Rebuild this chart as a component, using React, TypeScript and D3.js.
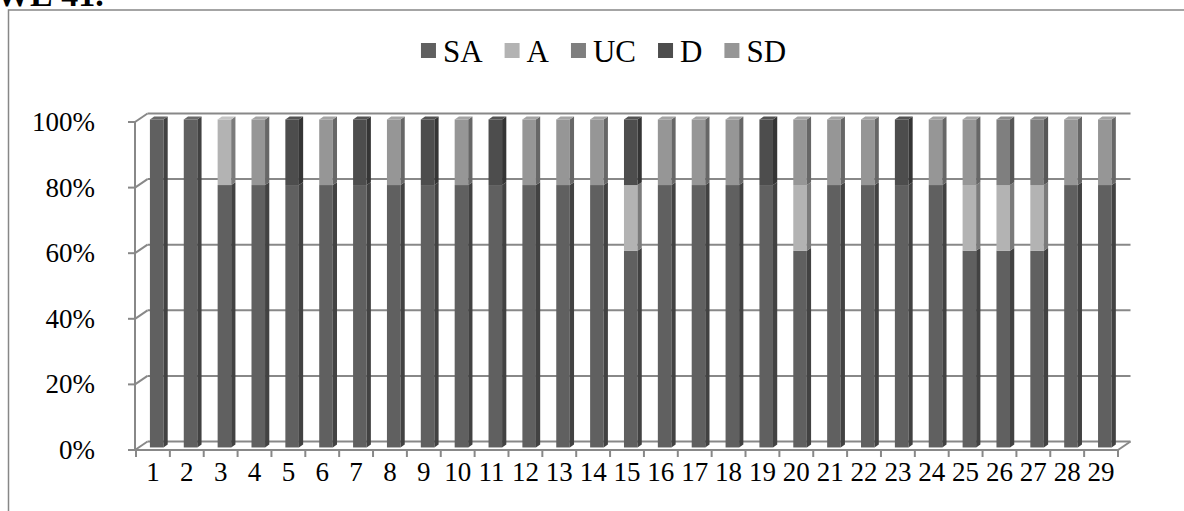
import React from "react";
import * as d3 from "d3";

// Survey items 1–29, Likert responses as percentages stacked SA → SD
const categories = ["1","2","3","4","5","6","7","8","9","10","11","12","13","14","15","16","17","18","19","20","21","22","23","24","25","26","27","28","29"];
const seriesNames = ["SA", "A", "UC", "D", "SD"];
const SA = [100,100,80,80,80,80,80,80,80,80,80,80,80,80,60,80,80,80,80,60,80,80,80,80,60,60,60,80,80];
const A  = [0,0,20,0,0,0,0,0,0,0,0,0,0,0,20,0,0,0,0,20,0,0,0,0,20,20,20,0,0];
const UC = [0,0,0,0,0,0,0,0,0,0,0,0,0,0,0,0,0,0,0,0,0,0,0,0,0,20,20,0,0];
const D  = [0,0,0,0,20,0,20,0,20,0,20,0,0,0,20,0,0,0,20,0,0,0,20,0,0,0,0,0,0];
const SD = [0,0,0,20,0,20,0,20,0,20,0,20,20,20,0,20,20,20,0,20,20,20,0,20,20,0,0,20,20];
const yTicks = [0, 20, 40, 60, 80, 100];
const seriesColors = ["#606060", "#b3b3b3", "#7f7f7f", "#4d4d4d", "#969696"];

const W = 1184, H = 511;
const plot = { left: 135, right: 1118, top: 122, bottom: 450 };
const depth = { dx: 12.5, dy: -8.5 };
const barFront = 0.3, barBack = 0.64;
const gridColor = "#888888";
const serif = "'Liberation Serif', 'Times New Roman', serif";

export default function App() {
  const x = d3.scaleBand<string>().domain(categories).range([plot.left + 1, plot.right]).paddingInner(0).paddingOuter(0);
  const y = d3.scaleLinear().domain([0, 100]).range([plot.bottom, plot.top]);
  const series = [SA, A, UC, D, SD];
  const rows = categories.map((c, i) => {
    const r: any = { cat: c };
    seriesNames.forEach((s, k) => (r[s] = series[k][i]));
    return r;
  });
  const stacked = d3.stack().keys(seriesNames)(rows);

  const bw = x.bandwidth() / 2.5;
  const fx = depth.dx * barFront, fy = depth.dy * barFront;
  const sx = depth.dx * (barBack - barFront), sy = depth.dy * (barBack - barFront);

  const bars: JSX.Element[] = [];
  categories.forEach((c, i) => {
    const x0 = (x(c) as number) + (x.bandwidth() - bw) / 2 + fx;
    const x1 = x0 + bw;
    const segs = stacked.map((s, k) => ({ k, lo: s[i][0], hi: s[i][1] })).filter((s) => s.hi > s.lo);
    segs.forEach((s, j) => {
      const col = d3.color(seriesColors[s.k])!;
      const yT = y(s.hi) + fy, yB = y(s.lo) + fy;
      bars.push(
        <g key={`${c}-${s.k}`}>
          <rect x={x0} y={yT} width={bw} height={yB - yT} fill={seriesColors[s.k]} />
          <polygon
            points={`${x1},${yT} ${x1 + sx},${yT + sy} ${x1 + sx},${yB + sy} ${x1},${yB}`}
            fill={col.darker(1.05).formatHex()}
          />
          {j === segs.length - 1 && (
            <polygon
              points={`${x0},${yT} ${x0 + sx},${yT + sy} ${x1 + sx},${yT + sy} ${x1},${yT}`}
              fill={col.brighter(0.25).formatHex()}
            />
          )}
        </g>
      );
    });
  });

  const backL = plot.left + depth.dx, backR = plot.right + depth.dx;

  return (
    <svg width={W} height={H} style={{ position: "absolute", left: 0, top: 0, background: "#fff" }}>
      {/* figure caption cut by the frame top */}
      <text x={-4} y={6} fontFamily={serif} fontWeight="bold" fontSize={34} fill="#000">WE 41.</text>
      {/* chart frame */}
      <rect x={8.5} y={10} width={1200} height={520} fill="none" stroke="#878787" strokeWidth={1.5} />

      {/* back wall gridlines and side wall diagonals */}
      <g stroke={gridColor} strokeWidth={2} fill="none">
        {yTicks.map((t) => (
          <g key={t}>
            <line x1={backL} x2={backR} y1={y(t) + depth.dy} y2={y(t) + depth.dy} />
            <line x1={plot.left} y1={y(t)} x2={backL} y2={y(t) + depth.dy} />
          </g>
        ))}
        {/* floor */}
        <line x1={plot.left} x2={plot.right} y1={y(0)} y2={y(0)} />
        <line x1={plot.right} y1={y(0)} x2={backR} y2={y(0) + depth.dy} />
        {/* value axis */}
        <line x1={plot.left} x2={plot.left} y1={plot.top} y2={plot.bottom} />
        {yTicks.map((t) => (
          <line key={`yt${t}`} x1={plot.left - 7} x2={plot.left} y1={y(t)} y2={y(t)} />
        ))}
        {categories.map((c) => (
          <line key={`xt${c}`} x1={x(c) as number} x2={x(c) as number} y1={y(0)} y2={y(0) + 7} />
        ))}
        <line x1={plot.right} x2={plot.right} y1={y(0)} y2={y(0) + 7} />
      </g>

      {bars}

      {/* axis labels */}
      <g fontFamily={serif} fontSize={27} fill="#000">
        {yTicks.map((t) => (
          <text key={t} x={plot.left - 40} y={y(t) + 9} textAnchor="end">{`${t}%`}</text>
        ))}
        {categories.map((c) => (
          <text key={c} x={(x(c) as number) + x.bandwidth() / 2} y={481} textAnchor="middle">{c}</text>
        ))}
      </g>

      <Legend />
    </svg>
  );
}

function Legend() {
  const fontSize = 31;
  const sw = 15, gapText = 7, gapItem = 22;
  const widths: Record<string, number> = { SA: 1.278, A: 0.722, UC: 1.389, D: 0.722, SD: 1.278 };
  const items: { name: string; x: number; color: string }[] = [];
  let cx = 0;
  seriesNames.forEach((n, i) => {
    items.push({ name: n, x: cx, color: seriesColors[i] });
    cx += sw + gapText + widths[n] * fontSize + gapItem;
  });
  const total = cx - gapItem;
  const start = 603.5 - total / 2;
  return (
    <g transform={`translate(${start},0)`} fontFamily={serif} fontSize={fontSize} fill="#000">
      {items.map((it) => (
        <g key={it.name}>
          <rect x={it.x} y={43} width={sw} height={sw} fill={it.color} />
          <text x={it.x + sw + gapText} y={62}>{it.name}</text>
        </g>
      ))}
    </g>
  );
}
